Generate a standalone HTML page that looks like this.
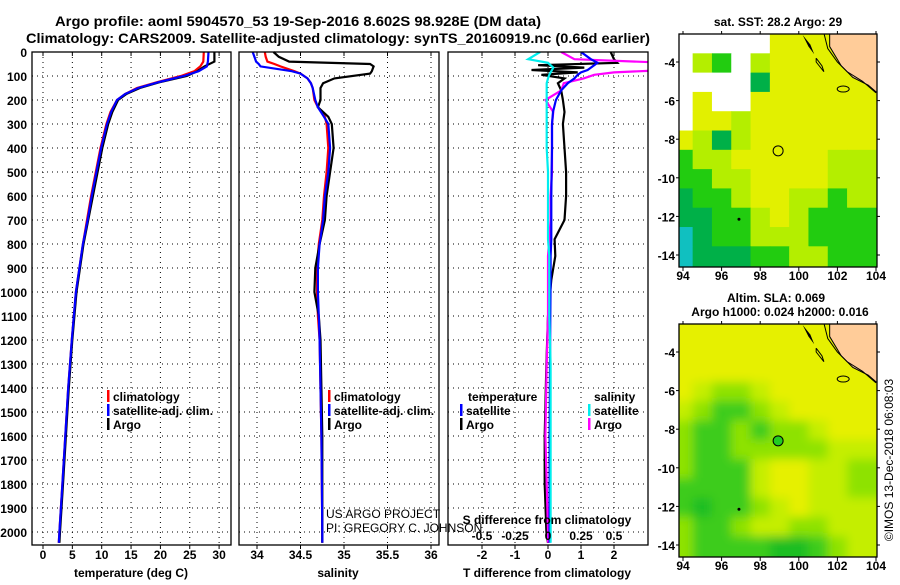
<!DOCTYPE html>
<html><head><meta charset="utf-8"><style>
body{margin:0;background:#fff;width:900px;height:580px;overflow:hidden}
svg text{font-family:"Liberation Sans",sans-serif;font-weight:bold;fill:#000}
svg text.thin{font-weight:normal}
</style></head><body>
<svg id="chart" width="900" height="580" xmlns="http://www.w3.org/2000/svg"></svg>
<script>
// ---------- data ----------
const depths = [0,40,60,80,100,125,150,175,200,250,300,400,500,600,700,800,900,1000,1200,1400,1600,1800,2000,2045];
const argoT = [29.2,29.2,27.5,26.3,24.5,20,16.5,14.2,12.8,11.8,11.1,10.1,9.3,8.5,7.7,6.9,6.3,5.7,5.0,4.4,3.9,3.4,2.9,2.8];
const climT = [27.4,27.3,26.8,25.8,23.5,19.5,16,14,12.6,11.5,10.8,9.8,9.0,8.2,7.5,6.8,6.2,5.6,4.9,4.3,3.8,3.3,2.8,2.7];
const satT = [28.2,28.1,27.9,26.5,24,19.8,16.2,14,12.6,11.6,10.9,9.9,9.1,8.3,7.6,6.8,6.2,5.6,4.9,4.3,3.8,3.3,2.8,2.7];
const sDepths = [0,20,40,50,60,80,90,110,130,150,200,230,270,300,400,500,600,700,800,900,1000,1100,1200,1600,2000,2045];
const argoS = [34.19,34.25,34.37,35.3,35.34,35.32,35.3,34.89,34.76,34.73,34.73,34.7,34.82,34.86,34.88,34.84,34.8,34.78,34.72,34.67,34.66,34.71,34.73,34.75,34.75,34.75];
const climS = [34.09,34.1,34.12,34.2,34.27,34.43,34.5,34.58,34.62,34.64,34.66,34.7,34.78,34.8,34.82,34.8,34.77,34.75,34.71,34.69,34.69,34.7,34.72,34.74,34.75,34.75];
const satS = [33.95,33.97,33.99,34.02,34.04,34.4,34.5,34.58,34.62,34.64,34.67,34.7,34.77,34.82,34.84,34.82,34.78,34.76,34.72,34.7,34.7,34.71,34.72,34.74,34.75,34.75];
const dDepths = [0,30,45,55,65,75,85,95,110,130,160,200,250,300,400,500,600,700,780,850,950,1100,1300,1600,1800,2000,2045];
const argoDT = [1.9,2.0,2.1,-0.3,1.1,-0.5,0.9,-0.2,0.5,0.3,0.4,0.45,0.5,0.45,0.5,0.55,0.55,0.5,0.2,0.22,0.1,0.0,-0.05,-0.1,-0.1,-0.05,0];
const satDT = [1.0,1.3,1.5,1.4,1.3,1.2,1.0,0.9,0.8,0.6,0.4,0.24,0.15,0.12,0.12,0.11,0.1,0.1,0.1,0.08,0.08,0.07,0.06,0.05,0.05,0.05,0.05];
const argoDS = [0.1,0.2,0.9,0.9,0.9,0.9,0.5,0.35,0.27,0.12,0.1,-0.02,0.04,0.03,0.03,0.03,0.02,0.02,0.01,0.0,0.0,0.0,-0.01,-0.02,-0.01,0.0,0.0];
const satDS = [-0.06,-0.15,0.0,0.02,0.04,0.03,0.02,0.01,0.0,-0.01,-0.01,-0.01,-0.01,-0.01,-0.01,0.0,0.0,0.0,0.0,0.01,0.01,0.01,0.02,0.02,0.02,0.02,0.02];
const depthTicks = [0,100,200,300,400,500,600,700,800,900,1000,1100,1200,1300,1400,1500,1600,1700,1800,1900,2000];
const tempTicks = [0,5,10,15,20,25,30];
const salTicks = [34,34.5,35,35.5,36];
const tdTicks = [-2,-1,0,1,2];
const sdTicks = [-0.5,-0.25,0,0.25,0.5];
const sdTickLabels = ["-0.5","-0.25","0","0.25","0.5"];
const lonTicks = [94,96,98,100,102,104];
const latTicks = [-4,-6,-8,-10,-12,-14];
// SST map grid, 1-degree cells, rows from north (-2.55) to south; cols 94..104
const sstGrid = [
"WWWWWYYYYY","WLGWLYYYYY","WWWWDYYYYY","WYWWYYYYYY","WYYLYYYYYY","YLDLYYYYYY",
"GLLYYYYYLL","GGLLYYYYLL","DGGLYYLLGL","DDGGLYLGGG","CDGGLLLGGG","CDDDGGLLGG"];
const slaGrid = [
"YYYYYYYYYY","YYYYYYYYYY","YYYYYYYYYY","YLMMLYYYYY","LMGGMLYYYY","MGGMGMMLYY",
"MGGMMMMMLL","MGGGLYYLLM","GGGGLYYLLM","GDGGMLYLLL","MGGMLLMMLL","MGGGGDDGML"];
const sstColors = {W:"#ffffff",Y:"#e2f000",L:"#b4ee00",G:"#22cc10",D:"#00b048",C:"#10c0c0"};
const slaColors = {Y:"#e6f000",L:"#c4ee00",M:"#8ee200",G:"#3ccc1c",D:"#1ebe24"};
const argoLon = 98.928, argoLat = -8.602;

// ---------- helpers ----------
const svg = document.getElementById('chart');
const NS = "http://www.w3.org/2000/svg";
function mk(tag, attrs, parent){const e=document.createElementNS(NS,tag);for(const k in attrs)e.setAttribute(k,attrs[k]);(parent||svg).appendChild(e);return e;}
function txt(x,y,s,size,anchor,parent,extra){const t=mk('text',Object.assign({x:x,y:y,'font-size':size,'text-anchor':anchor||'middle'},extra||{}),parent);t.textContent=s;return t;}
const Y0=52, YS=0.24, PB=545;
const yD = d => Y0 + d*YS;

function panel(name,x0,x1,xs,gridX){
  const g=mk('g',{});
  
  
  depthTicks.forEach(d=>{ if(d>0){ mk('line',{x1:x0,x2:x1,y1:yD(d),y2:yD(d),stroke:'#000','stroke-width':1,'stroke-dasharray':'1,4'},g);}});
  gridX.forEach(v=>{mk('line',{x1:xs(v),x2:xs(v),y1:Y0,y2:PB,stroke:'#000','stroke-width':1,'stroke-dasharray':'1,4'},g);
    mk('line',{x1:xs(v),x2:xs(v),y1:Y0,y2:Y0+4,stroke:'#000'},g);});
  return g;
}
function frame(name,x0,x1,y0,y1,parent){
  const r=mk('rect',{x:x0,y:y0,width:x1-x0,height:y1-y0,fill:'none',stroke:'#000','stroke-width':1.3},parent);
  
  
}
function line(g,xs,vals,ds,color,name,w){
  const p=mk('polyline',{points:vals.map((v,i)=>xs(v).toFixed(1)+','+yD(ds[i]).toFixed(1)).join(' '),fill:'none',stroke:color,'stroke-width':w||2.2},g);
  
  
}

// ---------- titles ----------
let t1=txt(298,26,"Argo profile: aoml 5904570_53 19-Sep-2016 8.602S 98.928E (DM data)",14,'middle',svg,{textLength:486,lengthAdjust:'spacingAndGlyphs'});


let t2=txt(338,43,"Climatology: CARS2009. Satellite-adjusted climatology: synTS_20160919.nc (0.66d earlier)",14,'middle',svg,{textLength:624,lengthAdjust:'spacingAndGlyphs'});



const yl=mk('g',{});


depthTicks.forEach(d=>txt(27,yD(d)+5,String(d),12,'end',yl));

// ---------- temperature panel ----------
const tx = v => 43 + v*5.87;
const gT=panel('temperature-panel',32,231,tx,tempTicks);
line(gT,tx,climT,depths,'#f00','climatology-temp-line');
line(gT,tx,argoT,depths,'#000','argo-temp-line');
line(gT,tx,satT,depths,'#00f','satellite-temp-line');
frame('temperature-frame',32,231,Y0,PB);
tempTicks.forEach(v=>{mk('line',{x1:tx(v),x2:tx(v),y1:PB,y2:PB+4,stroke:'#000'});txt(tx(v),559,String(v),12);});
let xt=txt(131,577,"temperature (deg C)",12);



// ---------- salinity panel ----------
const sx = v => 257 + (v-34)*87;
const gS=panel('salinity-panel',239,439,sx,salTicks);
line(gS,sx,climS,sDepths,'#f00','climatology-salinity-line');
line(gS,sx,argoS,sDepths,'#000','argo-salinity-line');
line(gS,sx,satS,sDepths,'#00f','satellite-salinity-line');
frame('salinity-frame',239,439,Y0,PB);
salTicks.forEach(v=>{mk('line',{x1:sx(v),x2:sx(v),y1:PB,y2:PB+4,stroke:'#000'});txt(sx(v),559,String(v),12);});
let xs2=txt(338,577,"salinity",12);



// ---------- difference panel ----------
const dtx = v => 548 + v*33;
const dsx = v => 548 + v*132;
const gD=panel('difference-panel',448,648,dtx,tdTicks);
const cp=mk('clipPath',{id:'dclip'});mk('rect',{x:448,y:Y0,width:200,height:PB-Y0},cp);
const gDL=mk('g',{'clip-path':'url(#dclip)'},gD);
line(gDL,dtx,argoDT,dDepths,'#000','argo-temp-diff-line');
line(gDL,dsx,argoDS,dDepths,'#f0f','argo-salinity-diff-line');
line(gDL,dtx,satDT,dDepths,'#00f','satellite-temp-diff-line');
line(gDL,dsx,satDS,dDepths,'#0ee','satellite-salinity-diff-line');
frame('difference-frame',448,648,Y0,PB);
tdTicks.forEach(v=>{mk('line',{x1:dtx(v),x2:dtx(v),y1:PB,y2:PB+4,stroke:'#000'});txt(dtx(v),559,String(v),12);});
sdTicks.forEach((v,i)=>txt(dsx(v),540,sdTickLabels[i],12));
let sdt=txt(547,524,"S difference from climatology",12);


let tdt=txt(547,577,"T difference from climatology",12);



const cr=mk('g',{});


txt(326,518,"US ARGO PROJECT",12,'start',cr,{'class':'thin'});
txt(326,532,"PI: GREGORY C. JOHNSON",12,'start',cr,{'class':'thin'});

// ---------- legends ----------
function legItem(x,y,color,label,name){
  const g=mk('g',{});
  
  
  mk('rect',{x:x,y:y-11,width:2.5,height:12,fill:color},g);
  txt(x+6,y,label,12,'start',g);
}
legItem(107,401,'#f00','climatology','legend-temp-climatology');
legItem(107,415,'#00f','satellite-adj. clim.','legend-temp-satellite');
legItem(107,429,'#000','Argo','legend-temp-argo');
legItem(328,401,'#f00','climatology','legend-sal-climatology');
legItem(328,415,'#00f','satellite-adj. clim.','legend-sal-satellite');
legItem(328,429,'#000','Argo','legend-sal-argo');
txt(468,401,"temperature",12,'start');
legItem(460,415,'#00f','satellite','legend-diff-temp-satellite');
legItem(460,429,'#000','Argo','legend-diff-temp-argo');
txt(594,401,"salinity",12,'start');
legItem(588,415,'#0ee','satellite','legend-diff-sal-satellite');
legItem(588,429,'#f0f','Argo','legend-diff-sal-argo');

// ---------- maps ----------
const MX0=679, MX1=877;
const lonX = v => 683 + (v-94)*19.3;
function drawMap(name,yTop,grid,colors,blur){
  const latY = v => yTop + 28 + (-4 - v)*19.3;
  const g=mk('g',{});
  
  
  const id='clip'+name;
  const c=mk('clipPath',{id:id});mk('rect',{x:MX0,y:yTop,width:MX1-MX0,height:233},c);
  const inner=mk('g',{'clip-path':'url(#'+id+')'},g);
  const cells=mk('g',blur?{filter:'url(#blurf)'}:{},inner);
  const ext=blur?30:10;
  const nr=grid.length;
  grid.forEach((row,r)=>{
    const nc=row.length;
    for(let k=0;k<nc;k++){
      const lat=-2.55-r, lon=94+k;
      let x=lonX(lon-0.5), y=latY(lat);
      let x2=lonX(lon+0.5), y2=latY(lat-1);
      if(k==0)x=MX0-ext; if(k==nc-1)x2=MX1+ext;
      if(r==0)y=yTop-ext; if(r==nr-1)y2=yTop+233+ext;
      const cell=mk('rect',{x:x,y:y,width:x2-x+0.5,height:y2-y+0.5,fill:colors[row[k]]},cells);
      
      
    }
  });
  const land=mk('polygon',{points:[[101.6,-2.4],[104.3,-2.4],[104.3,-5.8],[103.6,-5.2],[102.8,-4.8],[102.2,-4.2],[101.6,-3.2]].map(p=>lonX(p[0])+','+latY(p[1])).join(' '),fill:'#ffcc99',stroke:'#000','stroke-width':1},inner);
  
  
  mk('polyline',{points:[[101.3,-2.5],[101.5,-3.3],[102,-4],[102.5,-4.5],[103.3,-5],[104,-5.6]].map(p=>lonX(p[0])+','+latY(p[1])).join(' '),fill:'none',stroke:'#000','stroke-width':1},inner);
  mk('polygon',{points:[[100.2,-2.6],[100.5,-3.2],[100.8,-3.6],[100.6,-3.1]].map(p=>lonX(p[0])+','+latY(p[1])).join(' '),fill:'#000'},inner);
  mk('polyline',{points:[[100.9,-3.8],[101.2,-4.2],[101.3,-4.5],[100.9,-4.0],[100.9,-3.8]].map(p=>lonX(p[0])+','+latY(p[1])).join(' '),fill:'none',stroke:'#000'},inner);
  mk('ellipse',{cx:lonX(102.3),cy:latY(-5.4),rx:6,ry:3,fill:'none',stroke:'#000'},inner);
  mk('circle',{cx:lonX(96.9),cy:latY(-12.15),r:1.5,fill:'#000'},inner);
  const dot=mk('circle',{cx:lonX(argoLon),cy:latY(argoLat),r:5,fill:blur?'#22cc22':'none',stroke:'#000','stroke-width':1},inner);
  
  
  frame(name+'-frame',MX0,MX1,yTop,yTop+233,g);
  lonTicks.forEach(v=>{mk('line',{x1:lonX(v),x2:lonX(v),y1:yTop+233,y2:yTop+237,stroke:'#000'},g);mk('line',{x1:lonX(v),x2:lonX(v),y1:yTop,y2:yTop-3,stroke:'#000'},g);txt(lonX(v),yTop+246,String(v),12,'middle',g);});
  latTicks.forEach(v=>{mk('line',{x1:MX0-3,x2:MX0,y1:latY(v),y2:latY(v),stroke:'#000'},g);mk('line',{x1:MX1,x2:MX1+3,y1:latY(v),y2:latY(v),stroke:'#000'},g);txt(675,latY(v)+5,String(v),12,'end',g);});
}
const defs=mk('defs',{});
const f=mk('filter',{id:'blurf',x:'-20%',y:'-20%',width:'140%',height:'140%'},defs);
mk('feGaussianBlur',{stdDeviation:5},f);
drawMap('sst-map',34,sstGrid,sstColors,false);
drawMap('sla-map',324,slaGrid,slaColors,true);
let st=txt(778,26,"sat. SST: 28.2 Argo: 29",12);


let at=txt(776,302,"Altim. SLA: 0.069",12);


txt(780,316,"Argo h1000: 0.024 h2000: 0.016",12);
let ct=txt(0,0,"©IMOS 13-Dec-2018 06:08:03",12,'middle',svg,{'class':'thin',transform:'translate(893,460) rotate(-90)'});


</script>
</body></html>
